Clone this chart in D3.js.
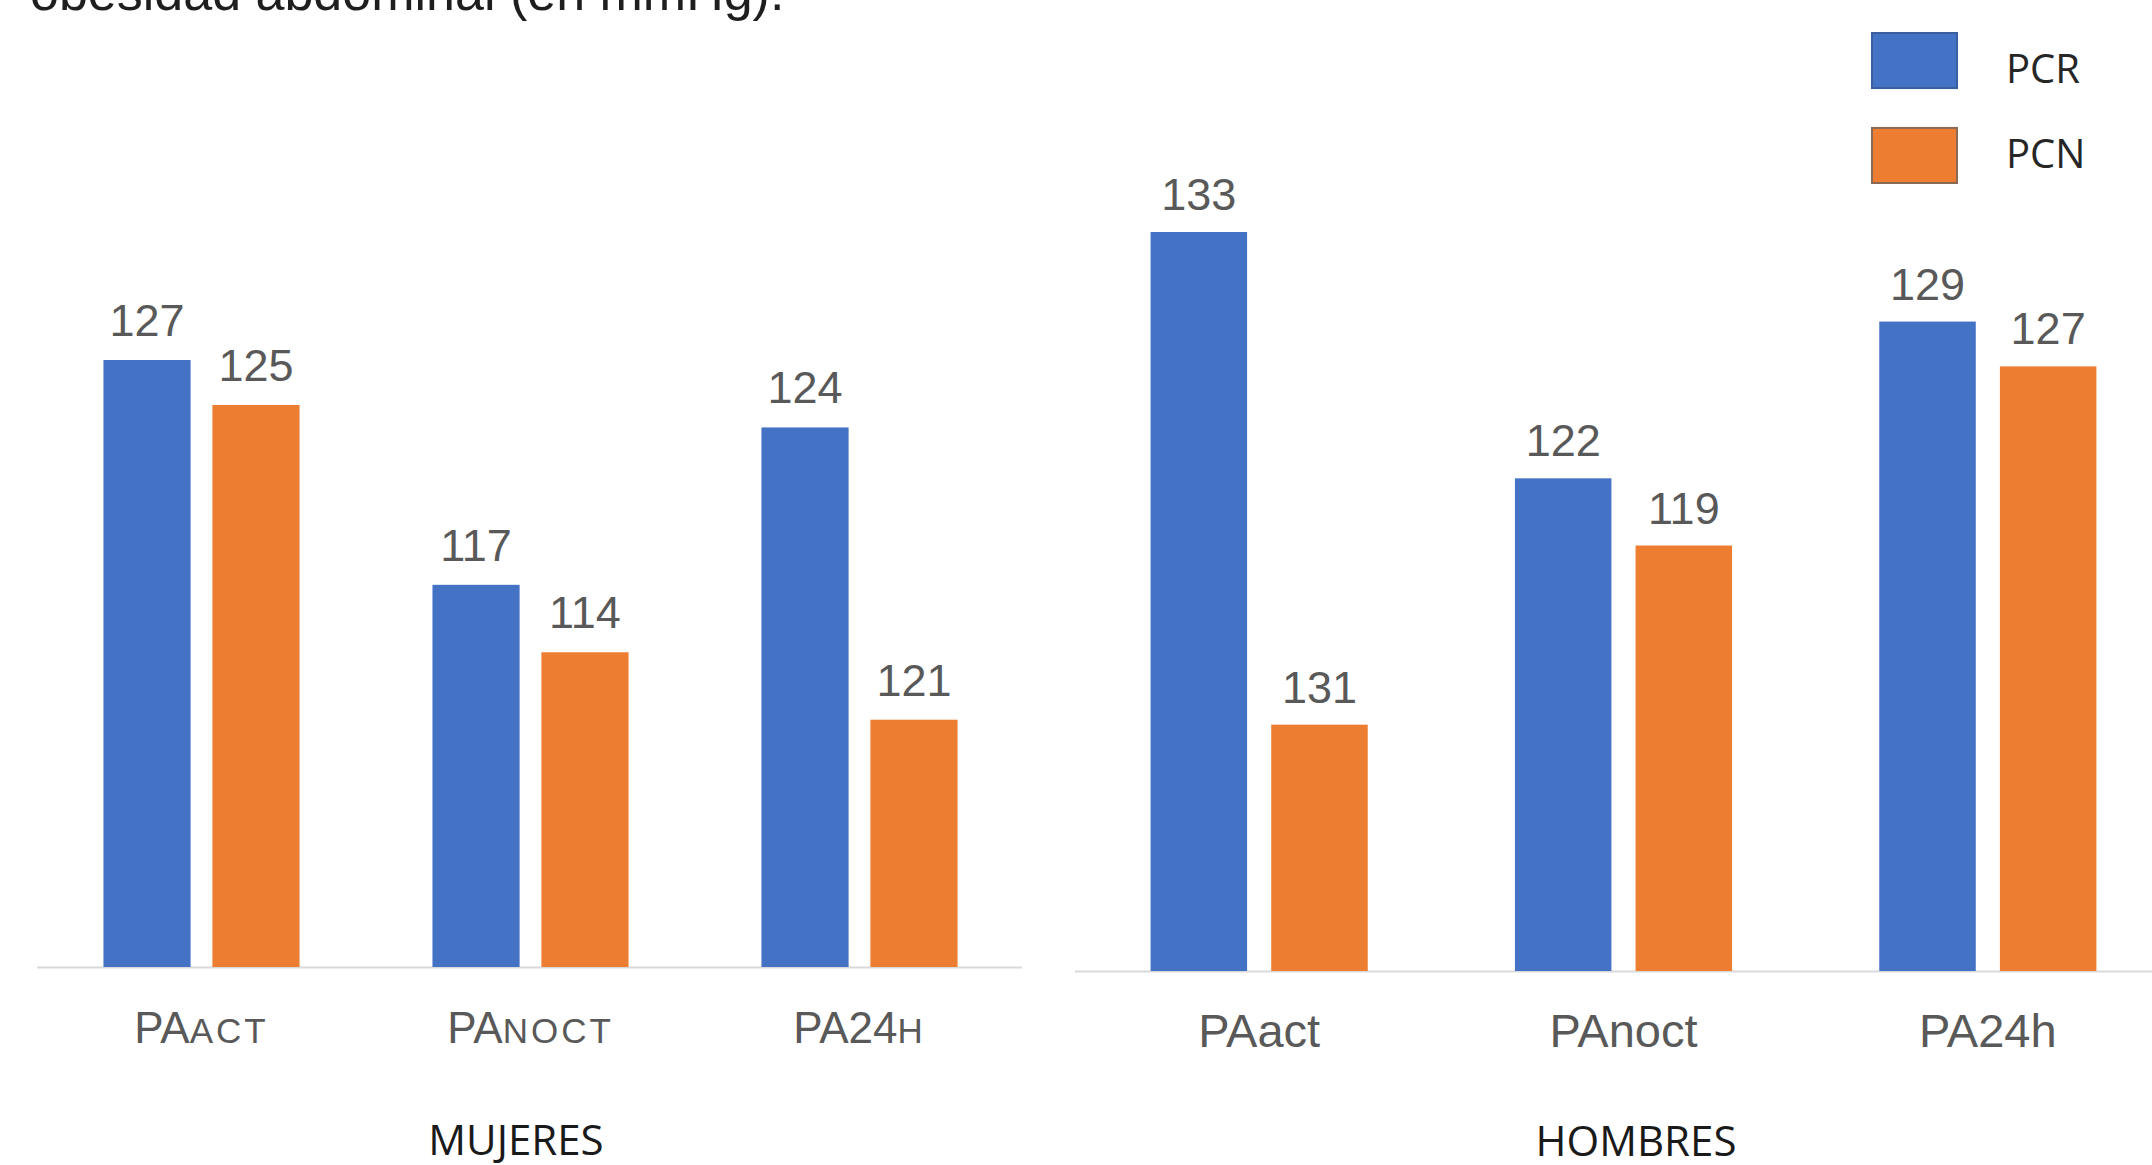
<!DOCTYPE html>
<html>
<head>
<meta charset="utf-8">
<script src="https://cdn.jsdelivr.net/npm/d3@7"></script>
<style>
  html, body { margin: 0; padding: 0; background: #ffffff; }
  svg { display: block; }
</style>
</head>
<body>
<svg id="chart" width="2152" height="1165"></svg>
<script>
// ---------- data ----------
const categories = ["PAact", "PAnoct", "PA24h"];
const seriesNames = ["PCR", "PCN"];

// bar heights as drawn (mmHg)
const mujeresPCR = [127, 117, 124];
const mujeresPCN = [125, 114, 111];
const hombresPCR = [133, 122, 129];
const hombresPCN = [111, 119, 127];

// value labels as printed on the chart
const mujeresPCRLabels = ["127", "117", "124"];
const mujeresPCNLabels = ["125", "114", "121"];
const hombresPCRLabels = ["133", "122", "129"];
const hombresPCNLabels = ["131", "119", "127"];

// tick labels: [full-size part, small-caps part]
const mujeresTicks = [["PA", "ACT"], ["PA", "NOCT"], ["PA24", "H"]];
const hombresTicks = ["PAact", "PAnoct", "PA24h"];

const panelTitles = ["MUJERES", "HOMBRES"];
const titleText = "obesidad abdominal (en mmHg).";

// ---------- drawing ----------
const colors = { PCR: "#4472c4", PCN: "#ed7d31" };
const svg = d3.select("#chart");
const sans = "'Liberation Sans', Arial, sans-serif";
const calib = "'Open Sans', 'Noto Sans', sans-serif";

// title line, cropped at the top edge as in the reference
svg.append("text")
  .attr("x", 30).attr("y", 10)
  .attr("font-family", sans).attr("font-size", 52)
  .attr("fill", "#1e1e1e")
  .text(titleText);

function panel(cfg) {
  const x0 = d3.scaleBand().domain(categories)
    .range(cfg.xRange).paddingInner(0.404).paddingOuter(0.202);
  const x1 = d3.scaleBand().domain(seriesNames)
    .range([0, x0.bandwidth()]).paddingInner(0.2).paddingOuter(0);
  const y = d3.scaleLinear().domain(cfg.yDomain).range(cfg.yRange);

  const g = svg.append("g");
  const rows = categories.map((c, i) => ({
    cat: c,
    vals: [
      { s: "PCR", v: cfg.pcr[i], lab: cfg.pcrLab[i] },
      { s: "PCN", v: cfg.pcn[i], lab: cfg.pcnLab[i] }
    ]
  }));

  g.append("line")
    .attr("x1", cfg.lineX[0]).attr("x2", cfg.lineX[1])
    .attr("y1", y(cfg.yDomain[0]) + 0.5).attr("y2", y(cfg.yDomain[0]) + 0.5)
    .attr("stroke", "#d9d9d9").attr("stroke-width", 2);

  const grp = g.selectAll("g.grp").data(rows).join("g")
    .attr("class", "grp")
    .attr("transform", d => `translate(${x0(d.cat)},0)`);

  grp.selectAll("rect").data(d => d.vals).join("rect")
    .attr("x", d => x1(d.s))
    .attr("width", x1.bandwidth())
    .attr("y", d => y(d.v))
    .attr("height", d => y(cfg.yDomain[0]) - y(d.v))
    .attr("fill", d => colors[d.s]);

  grp.selectAll("text.val").data(d => d.vals).join("text")
    .attr("class", "val")
    .attr("x", d => x1(d.s) + x1.bandwidth() / 2)
    .attr("y", d => y(d.v) - cfg.labelGap)
    .attr("text-anchor", "middle")
    .attr("font-family", sans).attr("font-size", 45)
    .attr("fill", "#595959")
    .text(d => d.lab);

  const tl = g.selectAll("text.tick").data(categories).join("text")
    .attr("class", "tick")
    .attr("x", d => x0(d) + x0.bandwidth() / 2)
    .attr("y", cfg.tickY)
    .attr("text-anchor", "middle")
    .attr("font-family", sans)
    .attr("fill", "#595959");
  cfg.tickFn(tl);

  g.append("text")
    .attr("x", cfg.titleX).attr("y", cfg.titleY)
    .attr("text-anchor", "middle")
    .attr("font-family", calib).attr("font-size", 42)
    .attr("fill", "#1a1a1a")
    .text(cfg.title);
}

panel({
  xRange: [37, 1024], lineX: [37, 1022],
  yDomain: [100, 127], yRange: [967, 360],
  pcr: mujeresPCR, pcn: mujeresPCN,
  pcrLab: mujeresPCRLabels, pcnLab: mujeresPCNLabels,
  labelGap: 24, tickY: 1043,
  tickFn: sel => {
    sel.each(function(d, i) {
      const t = d3.select(this);
      t.append("tspan").attr("font-size", 44).text(mujeresTicks[i][0]);
      t.append("tspan").attr("font-size", 35).attr("letter-spacing", 3).text(mujeresTicks[i][1]);
    });
  },
  title: panelTitles[0], titleX: 516, titleY: 1155
});

panel({
  xRange: [1077, 2170], lineX: [1075, 2152],
  yDomain: [100, 133], yRange: [971, 232],
  pcr: hombresPCR, pcn: hombresPCN,
  pcrLab: hombresPCRLabels, pcnLab: hombresPCNLabels,
  labelGap: 22, tickY: 1047,
  tickFn: sel => {
    sel.attr("font-size", 47).text((d, i) => hombresTicks[i]);
  },
  title: panelTitles[1], titleX: 1636, titleY: 1156
});

// legend
const legend = svg.append("g");
const legY = d3.scaleBand().domain(seriesNames).range([33, 183]).paddingInner(0.42).paddingOuter(0);
const legTextY = d3.scalePoint().domain(seriesNames).range([83, 168]);
seriesNames.forEach(s => {
  legend.append("rect")
    .attr("x", 1872).attr("y", legY(s))
    .attr("width", 85).attr("height", legY.bandwidth())
    .attr("fill", colors[s])
    .attr("stroke", s === "PCR" ? "#3a5f9e" : "#8a6a55").attr("stroke-width", 2);
  legend.append("text")
    .attr("x", 2006).attr("y", legTextY(s))
    .attr("font-family", calib).attr("font-size", 40)
    .attr("fill", "#262626")
    .text(s);
});
</script>
</body>
</html>
